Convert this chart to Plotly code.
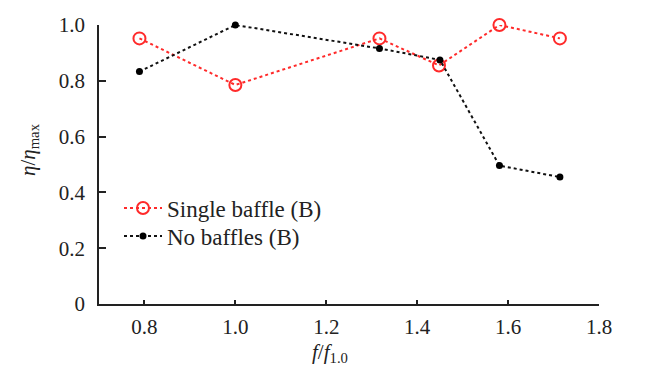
import plotly.graph_objects as go

x_single = [0.789, 1.0, 1.317, 1.448, 1.581, 1.714]
y_single = [0.952, 0.785, 0.952, 0.855, 1.0, 0.952]
x_none = [0.789, 1.0, 1.317, 1.45, 1.581, 1.714]
y_none = [0.833, 1.0, 0.916, 0.875, 0.496, 0.455]
xticks = [0.8, 1.0, 1.2, 1.4, 1.6, 1.8]
xticktext = ["0.8", "1.0", "1.2", "1.4", "1.6", "1.8"]
yticks = [0, 0.2, 0.4, 0.6, 0.8, 1.0]
yticktext = ["0", "0.2", "0.4", "0.6", "0.8", "1.0"]

FONT = "Liberation Serif, Times New Roman, serif"

fig = go.Figure()
fig.add_trace(go.Scatter(
    x=x_single, y=y_single, mode="lines+markers", name="Single baffle (B)",
    line=dict(color="#ff2a2a", width=2, dash="dot"),
    marker=dict(symbol="circle-open", size=12, color="#ff2a2a", line=dict(width=2)),
    cliponaxis=False, legend="legend",
))
fig.add_trace(go.Scatter(
    x=x_none, y=y_none, mode="lines+markers", name="No baffles (B)",
    line=dict(color="#111111", width=2, dash="dot"),
    marker=dict(symbol="circle", size=7, color="#000000"),
    cliponaxis=False, legend="legend2",
))

legend_common = dict(xanchor="left", yanchor="middle", bgcolor="rgba(0,0,0,0)",
                     font=dict(size=23, family=FONT, color="#222222"),
                     itemwidth=38, tracegroupgap=0)

fig.update_layout(
    width=646, height=372,
    margin=dict(l=99, r=47, t=25, b=68, autoexpand=False),
    paper_bgcolor="white", plot_bgcolor="white",
    font=dict(family=FONT, size=21, color="#222222"),
    showlegend=True,
    legend=dict(x=(119 - 99) / 500, y=(304 - 208) / 279, **legend_common),
    legend2=dict(x=(119 - 99) / 500, y=(304 - 236) / 279, **legend_common),
)
fig.update_xaxes(
    range=[0.7, 1.8], tickvals=xticks, ticktext=xticktext,
    showline=True, linecolor="#222222", linewidth=1.5,
    ticks="inside", ticklen=4, tickcolor="#222222", tickwidth=1.5,
    showgrid=False, zeroline=False, ticklabelstandoff=3, automargin=False,
)
fig.update_yaxes(
    range=[0, 1.0], tickvals=yticks, ticktext=yticktext,
    showline=True, linecolor="#222222", linewidth=1.5,
    ticks="inside", ticklen=7, tickcolor="#222222", tickwidth=1.5,
    showgrid=False, zeroline=False, ticklabelstandoff=8, automargin=False,
)
fig.add_annotation(
    text="<i>f</i>/<i>f</i><sub>1.0</sub>", xref="paper", yref="paper",
    x=(330 - 99) / 500, y=-(353 - 304) / 279, xanchor="center", yanchor="middle",
    showarrow=False, font=dict(family=FONT, size=21, color="#222222"),
)
fig.add_annotation(
    text="<i>η</i>/<i>η</i><sub>max</sub>", xref="paper", yref="paper",
    x=-(99 - 29) / 500, y=(304 - 150) / 279, xanchor="center", yanchor="middle",
    textangle=-90,
    showarrow=False, font=dict(family=FONT, size=21, color="#222222"),
)

fig.write_html("out.html", config={"displayModeBar": False},
               post_script="document.body.style.margin='0';")
